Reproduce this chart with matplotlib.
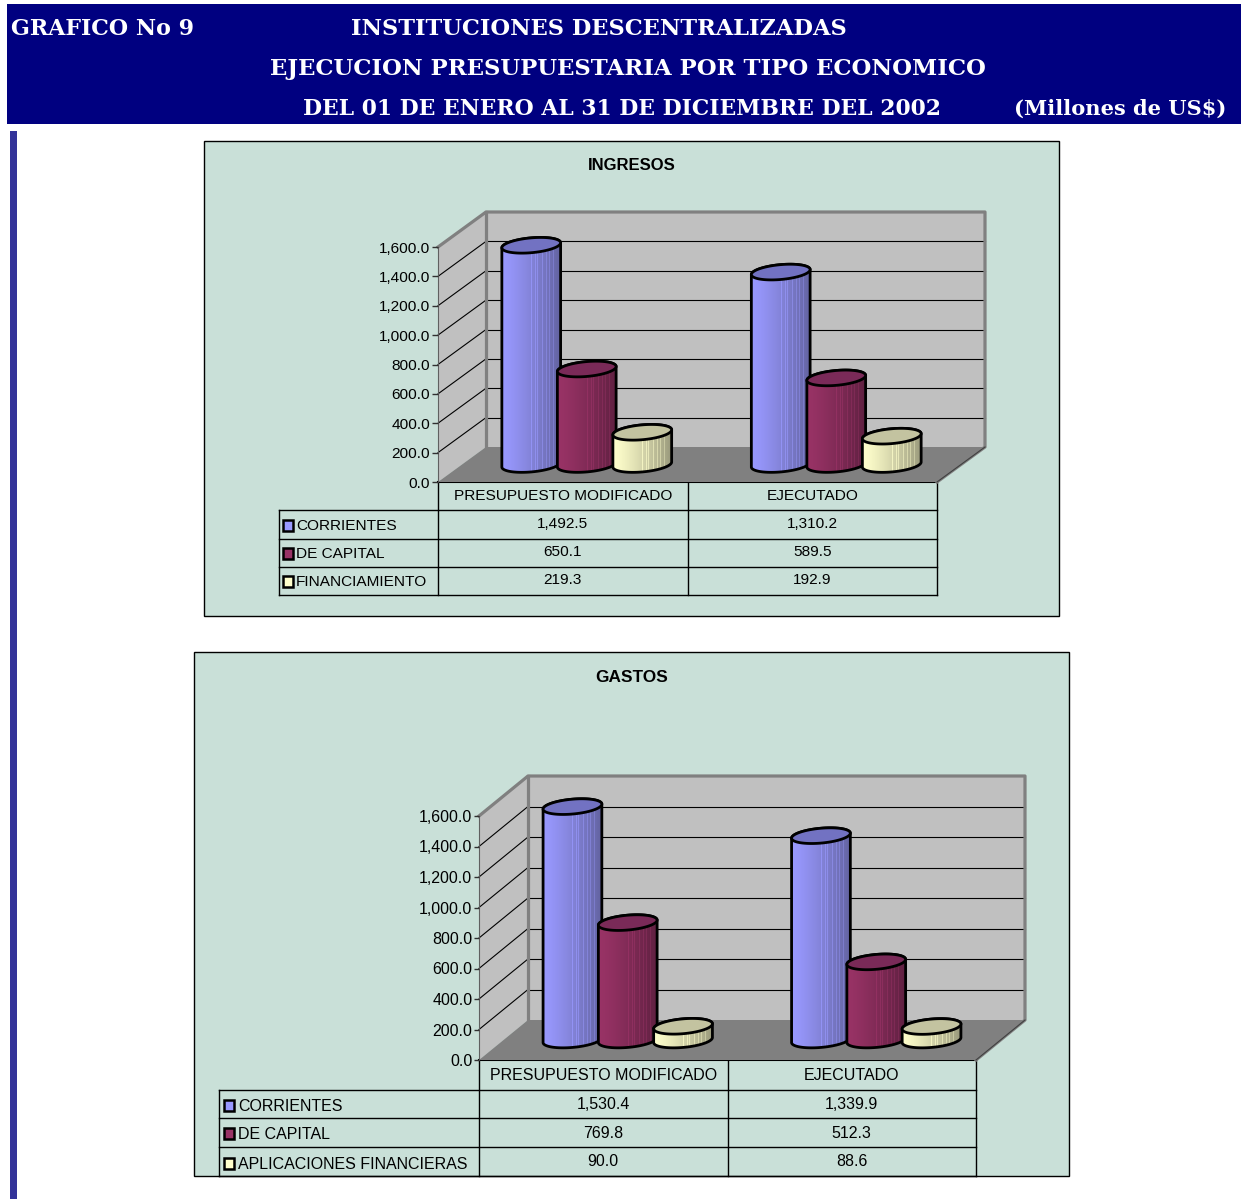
import numpy as np
import matplotlib
matplotlib.use("Agg")
import matplotlib.pyplot as plt
from matplotlib.colors import LinearSegmentedColormap
from matplotlib.patches import Polygon, Rectangle

W, H = 1241, 1199
plt.rcParams['font.family'] = ['Liberation Sans', 'DejaVu Sans']

# ---------- data ----------
categories = ["PRESUPUESTO MODIFICADO", "EJECUTADO"]
ingresos_labels = ["CORRIENTES", "DE CAPITAL", "FINANCIAMIENTO"]
ingresos_presupuesto = [1492.5, 650.1, 219.3]
ingresos_ejecutado = [1310.2, 589.5, 192.9]
gastos_labels = ["CORRIENTES", "DE CAPITAL", "APLICACIONES FINANCIERAS"]
gastos_presupuesto = [1530.4, 769.8, 90.0]
gastos_ejecutado = [1339.9, 512.3, 88.6]
y_ticks = [0, 200, 400, 600, 800, 1000, 1200, 1400, 1600]

# ---------- styles ----------
PANEL = "#C9E0D8"
SIDE = ["#9999FF", "#993366", "#FFFFCC"]
DARK = ["#62629E", "#5E2040", "#97977A"]
TOPS = ["#7272C2", "#7A2A58", "#C3C3A0"]
STRIPES = [0.50, 0.56, 0.60, 0.68, 0.74, 0.80, 0.86]

fig = plt.figure(figsize=(W / 100, H / 100), dpi=100, facecolor="white")
page = fig.add_axes([0, 0, 1, 1], zorder=0)
page.set_xlim(0, W)
page.set_ylim(H, 0)
page.axis("off")

# header
page.add_patch(Rectangle((7, 4), 1234, 120, fc="#000080", ec="none"))
page.add_patch(Rectangle((10, 131), 6.5, H - 131, fc="#333399", ec="none"))
HEAD = dict(color="white", family="DejaVu Serif", weight="bold", va="center", ha="left")
page.text(11, 29, "GRAFICO No 9", fontsize=15.9, **HEAD)
page.text(351, 29, "INSTITUCIONES DESCENTRALIZADAS", fontsize=16.2, **HEAD)
page.text(270, 69, "EJECUCION PRESUPUESTARIA POR TIPO ECONOMICO", fontsize=16.43, **HEAD)
page.text(303, 109, "DEL 01 DE ENERO AL 31 DE DICIEMBRE DEL 2002", fontsize=15.75, **HEAD)
page.text(1014, 109, "(Millones de US$)", fontsize=15.1, **HEAD)


def cylinder(ax, cx, base, top, i, sx, sy, a=29.5, b=7.4, tilt=5.2):
    """cx in category units, base/top in value units; a, b are pixel radii."""
    th = np.radians(tilt)

    def ell(t, yc):
        xp = a * np.cos(t) * np.cos(th) - b * np.sin(t) * np.sin(th)
        yp = a * np.cos(t) * np.sin(th) + b * np.sin(t) * np.cos(th)
        return cx + xp * sx, yc + yp * sy

    t_low = np.linspace(np.pi, 2 * np.pi, 60)
    t_up = np.linspace(0, np.pi, 60)
    xb, yb = ell(t_low, base)
    xt, yt = ell(t_up, top)
    body = Polygon(np.column_stack([np.r_[xb, xt], np.r_[yb, yt]]), closed=True,
                   fc="none", ec="none", zorder=3 + i * 0.1, clip_on=False)
    ax.add_patch(body)
    cmap = LinearSegmentedColormap.from_list("c", [SIDE[i], DARK[i]])
    grad = np.linspace(0, 1, 120) ** 1.3
    for s in STRIPES:
        k = int(s * 119)
        grad[k:k + 2] = np.maximum(0, grad[k:k + 2] - 0.3)
    x0, x1 = cx - a * sx * 1.02, cx + a * sx * 1.02
    y0, y1 = base - 12 * sy, top + 12 * sy
    im = ax.imshow(grad[None, :], cmap=cmap, vmin=0, vmax=1, aspect="auto",
                   extent=[x0, x1, y0, y1], interpolation="nearest",
                   zorder=3 + i * 0.1)
    im.set_clip_box(fig.bbox)
    im.set_clip_path(body)
    ax.add_patch(Polygon(np.column_stack([np.r_[xb, xt], np.r_[yb, yt]]), closed=True,
                         fc="none", ec="black", lw=2, zorder=3.01 + i * 0.1, clip_on=False))
    te = np.linspace(0, 2 * np.pi, 120)
    xe, ye = ell(te, top)
    ax.add_patch(Polygon(np.column_stack([xe, ye]), closed=True, fc=TOPS[i], ec="black",
                         lw=2, zorder=3.02 + i * 0.1, clip_on=False))


def chart(left, right, y0, y1, ddx, ddy, panel, title, title_y, labels, v1, v2,
          table_left, row_lines, head_y, val_y, lab_y, key_x, lab_x, fs, tick_len, title_fs, title_x=632):
    # panel
    page.add_patch(Rectangle((panel[0], panel[1]), panel[2] - panel[0], panel[3] - panel[1],
                             fc=PANEL, ec="black", lw=1))
    page.text(title_x, title_y, title, ha="center", va="center", weight="bold", fontsize=title_fs, color="black")

    # axes placed exactly on the front plane of the plot
    ax = fig.add_axes([left / W, 1 - y0 / H, (right - left) / W, (y0 - y1) / H], zorder=2)
    ax.patch.set_visible(False)
    sx = 2 / (right - left)
    sy = 1600 / (y0 - y1)
    dx, dy = ddx * sx, ddy * sy

    wall = dict(fc="#C0C0C0", ec="none", zorder=1, clip_on=False)
    ax.add_patch(Polygon([(dx, dy), (2 + dx, dy), (2 + dx, 1600 + dy), (dx, 1600 + dy)], **wall))
    ax.add_patch(Polygon([(0, 0), (dx, dy), (dx, 1600 + dy), (0, 1600)], **wall))
    ax.add_patch(Polygon([(0, 0), (2, 0), (2 + dx, dy), (dx, dy)], fc="#808080", ec="none",
                         zorder=1.1, clip_on=False))
    for v in y_ticks[1:-1]:
        ax.plot([dx, 2 + dx], [v + dy, v + dy], color="black", lw=0.8, zorder=1.2, clip_on=False)
    for v in y_ticks[1:-1]:
        ax.plot([0, dx], [v, v + dy], color="black", lw=0.8, zorder=1.2, clip_on=False)
    ax.plot([0, dx, 2 + dx, 2 + dx, 2], [1600, 1600 + dy, 1600 + dy, dy, 0],
            color="#808080", lw=2.3, zorder=1.3, clip_on=False)
    ax.plot([dx, dx], [dy, 1600 + dy], color="#808080", lw=2.3, zorder=1.3, clip_on=False)
    ax.plot([2 + dx, 2], [dy, 0], color="#404040", lw=0.8, zorder=1.3, clip_on=False)

    spacing = 0.2225
    for c, vals in enumerate([v1, v2]):
        for i, v in enumerate(vals):
            cx = c + 0.5 + dx / 2 + (i - 1) * spacing
            cylinder(ax, cx, dy / 2, v + dy / 2, i, sx, sy)

    ax.set_xlim(0, 2)
    ax.set_ylim(0, 1600)
    ax.set_xticks([])
    ax.set_yticks(y_ticks)
    ax.set_yticklabels([f"{v:,.1f}" for v in y_ticks], fontsize=fs)
    ax.tick_params(axis="y", length=tick_len, width=1, color="#303030", pad=1.2)
    for s in ["top", "right", "bottom"]:
        ax.spines[s].set_visible(False)
    ax.spines["left"].set_color("#606060")
    ax.spines["left"].set_zorder(1.4)

    # data table
    mid = (left + right) / 2
    line = dict(color="black", lw=1, zorder=1)
    page.plot([left, right], [y0, y0], color="black", lw=1.5, zorder=1)
    for yy in row_lines:
        page.plot([table_left, right], [yy, yy], **line)
    page.plot([table_left, table_left], [row_lines[0], row_lines[-1]], **line)
    for xx in (left, mid, right):
        page.plot([xx, xx], [y0, row_lines[-1]], **line)
    for c, name in enumerate(categories):
        xc = left + (c + 0.5) * (right - left) / 2
        page.text(xc, head_y, name, ha="center", va="center", fontsize=fs, color="black")
        for vv, yy in zip((v1, v2)[c], val_y):
            page.text(xc, yy, f"{vv:,.1f}", ha="center", va="center", fontsize=fs, color="black")
    for i, (lab, yy) in enumerate(zip(labels, lab_y)):
        page.add_patch(Rectangle((key_x, yy - 6.5), 10.5, 10.5, fc=SIDE[i], ec="black", lw=1.8, zorder=2))
        page.text(lab_x, yy, lab, ha="left", va="center", fontsize=fs, color="black")


chart(438, 937, 482, 247, 48, 35, (204, 141, 1059, 616), "INGRESOS", 166,
      ingresos_labels, ingresos_presupuesto, ingresos_ejecutado,
      279, [510, 539, 567, 595], 496, [523.5, 551.5, 580.5], [526.5, 554.5, 582.5], 282.5, 296, 11.05, 4.3, 12.0)
chart(479, 976, 1060, 816, 49, 40, (194, 652, 1069, 1176), "GASTOS", 678,
      gastos_labels, gastos_presupuesto, gastos_ejecutado,
      219, [1090, 1118, 1147, 1176], 1075, [1104.5, 1133.5, 1161.5], [1106.5, 1134.5, 1164.5], 223.5, 238, 11.5, 3.6, 12.4)

fig.savefig("out.png", dpi=100)
